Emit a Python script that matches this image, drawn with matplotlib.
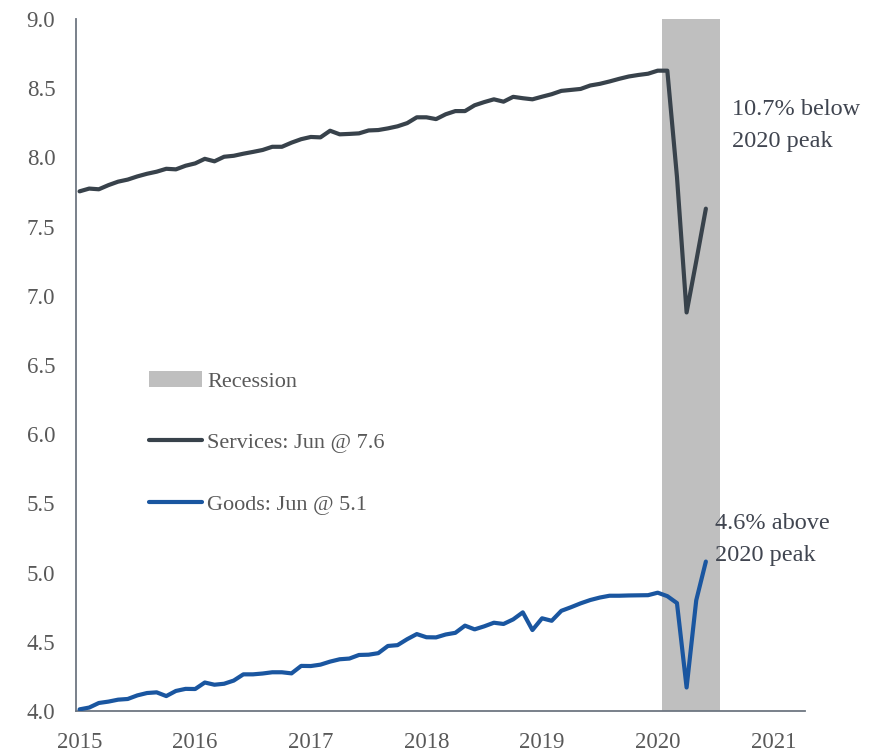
import matplotlib
matplotlib.use("Agg")
import matplotlib.pyplot as plt
from matplotlib.patches import Patch
from matplotlib.lines import Line2D
from matplotlib.transforms import Bbox
import numpy as np

# monthly values, Jan 2015 .. Jun 2020
services = [7.755, 7.775, 7.77, 7.80, 7.825, 7.84, 7.863, 7.882, 7.897, 7.918, 7.914, 7.94,
            7.957, 7.99, 7.972, 8.005, 8.012, 8.027, 8.04, 8.054, 8.077, 8.077, 8.107, 8.132,
            8.148, 8.145, 8.193, 8.167, 8.17, 8.174, 8.195, 8.198, 8.21, 8.225, 8.248, 8.29,
            8.29, 8.277, 8.312, 8.335, 8.335, 8.377, 8.40, 8.42, 8.403, 8.438, 8.428, 8.42,
            8.439, 8.457, 8.481, 8.488, 8.495, 8.52, 8.532, 8.549, 8.568, 8.585, 8.596, 8.605,
            8.627, 8.627, 7.86, 6.88, 7.25, 7.63]
goods = [4.012, 4.025, 4.058, 4.068, 4.082, 4.087, 4.113, 4.13, 4.135, 4.108, 4.145, 4.16,
         4.159, 4.206, 4.19, 4.197, 4.22, 4.265, 4.265, 4.271, 4.28, 4.28, 4.272, 4.326,
         4.325, 4.335, 4.357, 4.374, 4.379, 4.405, 4.407, 4.418, 4.47, 4.476, 4.519, 4.556,
         4.533, 4.532, 4.553, 4.565, 4.617, 4.59, 4.612, 4.638, 4.629, 4.662, 4.713, 4.585,
         4.67, 4.652, 4.724, 4.75, 4.778, 4.802, 4.82, 4.833, 4.833, 4.835, 4.836, 4.837,
         4.855, 4.83, 4.78, 4.17, 4.80, 5.08]
start_year = 2015
recession = (2020 + 1 / 12 - 0.05, 2020 + 6.5 / 12)
year_ticks = [2015, 2016, 2017, 2018, 2019, 2020, 2021]
y_ticks = [4.0, 4.5, 5.0, 5.5, 6.0, 6.5, 7.0, 7.5, 8.0, 8.5, 9.0]

x = start_year + np.arange(len(services)) / 12

plt.rcParams['font.family'] = ['Liberation Serif', 'DejaVu Serif']

fig = plt.figure(figsize=(8.81, 7.56), dpi=100)
ax = fig.add_axes([0.0857, 0.0595, 0.8283, 0.9153])

ax.axvspan(recession[0], recession[1], color='#BFBFBF', lw=0, zorder=1)
ax.plot(x, services, color='#38424B', lw=3, zorder=3, solid_capstyle='round')
ax.plot(x, goods, color='#1A56A0', lw=3, zorder=3, solid_capstyle='round')

ax.set_xlim(2014.965, 2021.276)
ax.set_ylim(4.0, 9.0)
ax.set_xticks(year_ticks)
ax.set_yticks(y_ticks)
ax.set_yticklabels(['%.1f' % v for v in y_ticks])
ax.tick_params(length=0, labelsize=16.5, colors='#595959')
ax.tick_params(axis='y', pad=14.5)
ax.tick_params(axis='x', pad=15)

for s in ['top', 'right']:
    ax.spines[s].set_visible(False)
for s in ['left', 'bottom']:
    ax.spines[s].set_color('#6E7681')
    ax.spines[s].set_linewidth(1.3)

# annotation text is cut at the right edge in the original
clip = Bbox.from_extents(0, 0, 862, 756)
for xt, yt, txt in [(2020.642, 8.23, "10.7% below\n2020 peak"),
                    (2020.497, 5.24, "4.6% above\n2020 peak")]:
    t = ax.text(xt, yt, txt, fontsize=17.5, color='#404550',
                va='center', ha='left', linespacing=1.65)
    t.set_clip_box(clip)
    t.set_clip_on(True)

handles = [Patch(color='#BFBFBF', lw=0),
           Line2D([], [], color='#38424B', lw=3, solid_capstyle='round'),
           Line2D([], [], color='#1A56A0', lw=3, solid_capstyle='round')]
labels = ['Recession', 'Services: Jun @ 7.6', 'Goods: Jun @ 5.1']
leg = ax.legend(handles, labels, loc='upper left', bbox_to_anchor=(138 / 881, 1 - 360 / 756),
                bbox_transform=fig.transFigure, frameon=False, fontsize=16,
                handlelength=2.36, handletextpad=0.25, labelspacing=1.84, borderpad=0)
for t in leg.get_texts():
    t.set_color('#595959')

fig.savefig("out.png", dpi=100)
